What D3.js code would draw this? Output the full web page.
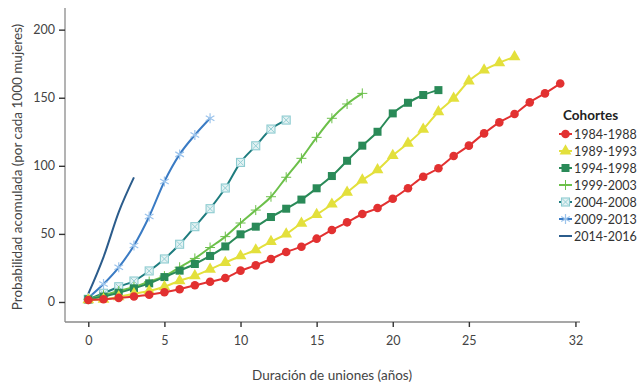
<!DOCTYPE html>
<html>
<head>
<meta charset="utf-8">
<script src="https://cdn.jsdelivr.net/npm/d3@7"></script>
<style>
  body { margin: 0; background: #fff; }
  svg { font-family: Lato, "Open Sans", sans-serif; }
</style>
</head>
<body>
<svg class="chart" width="644" height="387"></svg>
<script>
// cohort names and series (values per 1000 women, by year of union duration)
var cohorts = ["1984-1988", "1989-1993", "1994-1998", "1999-2003", "2004-2008", "2009-2013", "2014-2016"];

var s1984 = [1.5, 2, 3, 4, 5.3, 7.1, 9.4, 12.3, 14.9, 17.6, 23, 26.9, 31.6, 36.7, 40.6, 46.5, 52.9, 58.5, 64.6, 69, 75.8, 83.5, 92, 98.2, 107.2, 114.8, 123.8, 131.9, 138, 146.6, 153.2, 160.4];
var s1989 = [1.5, 2, 3.8, 6, 8.1, 11.2, 15.6, 19.2, 24, 29, 33.8, 38.2, 44.3, 49.9, 57.8, 64.2, 71.8, 80.5, 89.5, 97, 107.5, 116.5, 126.8, 139.7, 149.6, 162.3, 170.3, 175.7, 180];
var s1994 = [2, 4, 6.8, 10, 13.7, 18.3, 23, 27.9, 33.8, 40.8, 49.7, 55.3, 62.4, 68.5, 75.2, 83.5, 92.5, 103.7, 114.8, 125, 138.5, 146.3, 152, 155.6];
var s1999 = [2, 5, 8, 11, 15, 19, 25.5, 32, 40, 48, 58, 67.5, 77.3, 91.6, 105.5, 120.9, 134.9, 145.4, 153.2];
var s2004 = [2, 6.4, 11.2, 15.4, 22.8, 31.6, 42.4, 55.3, 68.5, 83.7, 102.5, 114.7, 127, 133.6];
var s2009 = [3, 13.2, 25.5, 41.5, 62.8, 88.5, 108.4, 122.6, 134.9];
var s2014 = [6, 33, 66, 91.5];

var xTicks = [0, 5, 10, 15, 20, 25, 32];
var yTicks = [0, 50, 100, 150, 200];

var allSeries = [s1984, s1989, s1994, s1999, s2004, s2009, s2014];
var lineColors = ["#e23131", "#e3e03c", "#2a8a58", "#6cc04a", "#1e7c7e", "#3a7bc4", "#2b5c8c"];
var markColors = ["#e23131", "#e3e03c", "#2a8a58", "#6cc04a", "#8ccbd0", "#9cc4ec", null];
var markTypes = ["circle", "triangle", "square", "plus", "boxx", "star", "none"];

var svg = d3.select(".chart");

var x = d3.scaleLinear().domain([-1.53, 32.3]).range([65, 580]);
var y = d3.scaleLinear().domain([-14.7, 215.9]).range([322, 8]);

// axes
svg.append("line").attr("x1", 65).attr("x2", 65).attr("y1", 8).attr("y2", 322)
  .attr("stroke", "#8a8a8a").attr("stroke-width", 1.3);
svg.append("line").attr("x1", 65).attr("x2", 580).attr("y1", 322).attr("y2", 322)
  .attr("stroke", "#8a8a8a").attr("stroke-width", 1.3);

var yAxis = svg.append("g")
  .attr("transform", "translate(65,0)")
  .call(d3.axisLeft(y).tickValues(yTicks).tickSize(6).tickPadding(4));
var xAxis = svg.append("g")
  .attr("transform", "translate(0,322)")
  .call(d3.axisBottom(x).tickValues(xTicks).tickSize(5).tickPadding(9));
[yAxis, xAxis].forEach(function(a) {
  a.select(".domain").remove();
  a.selectAll(".tick line").attr("stroke", "#333").attr("stroke-width", 1.4);
  a.selectAll(".tick text").attr("fill", "#444").style("font-size", "12.5px")
    .style("font-family", "Lato, sans-serif");
});

// axis titles
svg.append("text")
  .attr("transform", "translate(22,167) rotate(-90)")
  .attr("text-anchor", "middle")
  .attr("fill", "#444")
  .style("font-size", "13.5px")
  .text("Probabilidad acomulada (por cada 1000 mujeres)");

svg.append("text")
  .attr("x", 332).attr("y", 380)
  .attr("text-anchor", "middle")
  .attr("fill", "#444")
  .style("font-size", "13.5px")
  .text("Duración de uniones (años)");

function drawMarker(g, type, color, cx, cy) {
  if (type == "circle") {
    g.append("circle").attr("cx", cx).attr("cy", cy).attr("r", 4.3).attr("fill", color);
  } else if (type == "triangle") {
    g.append("path").attr("transform", "translate(" + cx + "," + cy + ")")
      .attr("d", d3.symbol().type(d3.symbolTriangle).size(60)).attr("fill", color);
  } else if (type == "square") {
    g.append("rect").attr("x", cx - 4).attr("y", cy - 4).attr("width", 8).attr("height", 8)
      .attr("fill", color);
  } else if (type == "plus") {
    g.append("path").attr("d", "M" + (cx - 5) + "," + cy + "h10M" + cx + "," + (cy - 5) + "v10")
      .attr("stroke", color).attr("stroke-width", 1);
  } else if (type == "boxx") {
    g.append("rect").attr("x", cx - 4).attr("y", cy - 4).attr("width", 8).attr("height", 8)
      .attr("fill", "#e4f2f3").attr("stroke", color).attr("stroke-width", 1.1);
    g.append("path").attr("d", "M" + (cx - 3) + "," + (cy - 3) + "l6,6M" + (cx + 3) + "," + (cy - 3) + "l-6,6")
      .attr("stroke", color).attr("stroke-width", 0.9);
  } else if (type == "star") {
    g.append("path").attr("transform", "translate(" + cx + "," + cy + ")")
      .attr("d", d3.symbol().type(d3.symbolAsterisk).size(70))
      .attr("stroke", color).attr("stroke-width", 1.2).attr("fill", "none");
  }
}

var line = d3.line()
  .x(function(d, i) { return x(i); })
  .y(function(d) { return y(d); })
  .curve(d3.curveMonotoneX);

// draw oldest last so it sits on top, like the reference
for (var k = allSeries.length - 1; k >= 0; k--) {
  var g = svg.append("g");
  g.append("path")
    .datum(allSeries[k])
    .attr("d", line)
    .attr("fill", "none")
    .attr("stroke", lineColors[k])
    .attr("stroke-width", 2);
  allSeries[k].forEach(function(v, i) {
    drawMarker(g, markTypes[k], markColors[k], x(i), y(v));
  });
}

// legend
var legend = svg.append("g").attr("transform", "translate(559,0)");
legend.append("text")
  .attr("x", 4).attr("y", 120)
  .attr("fill", "#222")
  .style("font-size", "13.5px")
  .style("font-weight", "bold")
  .text("Cohortes");

cohorts.forEach(function(c, i) {
  var ly = 134 + i * 17;
  legend.append("line").attr("x1", 0).attr("x2", 13).attr("y1", ly).attr("y2", ly)
    .attr("stroke", lineColors[i]).attr("stroke-width", 2);
  drawMarker(legend, markTypes[i], markColors[i], 6.5, ly);
  legend.append("text")
    .attr("x", 15).attr("y", ly + 4.5)
    .attr("fill", "#333")
    .style("font-size", "12.5px")
    .text(c);
});
</script>
</body>
</html>
